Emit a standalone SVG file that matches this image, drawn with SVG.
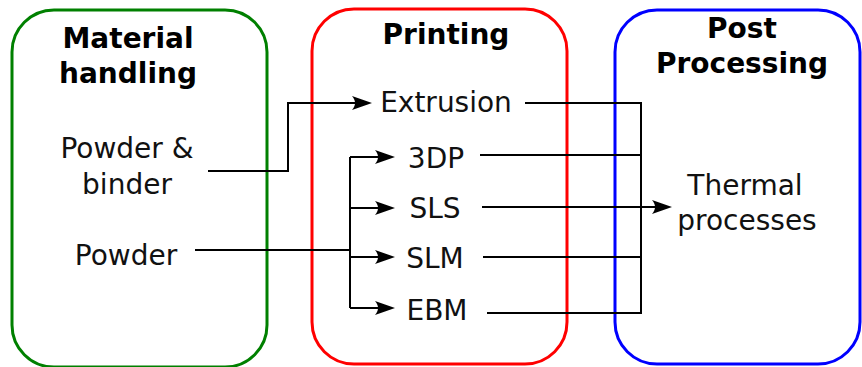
<svg xmlns="http://www.w3.org/2000/svg" width="862" height="367" viewBox="0 0 862 367">
  <style>
    .box { fill: none; stroke-width: 3; }
    .title { font-family: "DejaVu Sans", Verdana, sans-serif; font-size: 28px; font-weight: bold; fill: #000; text-anchor: middle; }
    .label { font-family: "DejaVu Sans", Verdana, sans-serif; font-size: 28px; fill: #111; text-anchor: middle; }
    .wire { fill: none; stroke: #000; stroke-width: 2; }
    .arrow { marker-end: url(#head); }
  </style>
  <defs>
    <marker id="head" markerUnits="userSpaceOnUse" markerWidth="22" markerHeight="16" refX="0" refY="0" orient="auto" overflow="visible">
      <path d="M10,0 L-10,-7 C-6,-2.5 -6,2.5 -10,7 Z" fill="#000"/>
    </marker>
  </defs>

  <g id="material-handling">
    <rect class="box" x="12" y="10" width="255" height="357" rx="42" ry="42" stroke="#008000"/>
    <text class="title" x="128" y="48">Material</text>
    <text class="title" x="128" y="83">handling</text>
    <text class="label" x="127" y="158">Powder &amp;</text>
    <text class="label" x="127" y="194">binder</text>
    <text class="label" x="126" y="265">Powder</text>
  </g>

  <g id="printing">
    <rect class="box" x="312" y="9" width="255" height="355" rx="42" ry="42" stroke="#ff0000"/>
    <text class="title" x="446" y="44">Printing</text>
    <text class="label" x="446" y="112">Extrusion</text>
    <text class="label" x="436" y="168">3DP</text>
    <text class="label" x="435" y="218">SLS</text>
    <text class="label" x="435" y="268">SLM</text>
    <text class="label" x="437" y="320">EBM</text>
  </g>

  <g id="post-processing">
    <rect class="box" x="615" y="10" width="245" height="354" rx="42" ry="42" stroke="#0000ff"/>
    <text class="title" x="742" y="38">Post</text>
    <text class="title" x="742" y="73">Processing</text>
    <text class="label" x="745" y="195">Thermal</text>
    <text class="label" x="747" y="230">processes</text>
  </g>

  <g id="connectors">
    <!-- binder feed to extrusion -->
    <path class="wire arrow" d="M208,171 H288 V103 H362"/>
    <!-- powder feed split across the four powder-bed routes -->
    <path class="wire" d="M195,250 H350"/>
    <path class="wire" d="M350,157 V308"/>
    <path class="wire arrow" d="M350,157 H385"/>
    <path class="wire arrow" d="M350,208 H385"/>
    <path class="wire arrow" d="M350,257 H385"/>
    <path class="wire arrow" d="M350,308 H385"/>
    <!-- every print route merges into thermal post-processing -->
    <path class="wire" d="M525,103 H641 V313 H487"/>
    <path class="wire" d="M480,155 H641"/>
    <path class="wire" d="M483,257 H641"/>
    <path class="wire arrow" d="M482,207 H662"/>
  </g>
</svg>
